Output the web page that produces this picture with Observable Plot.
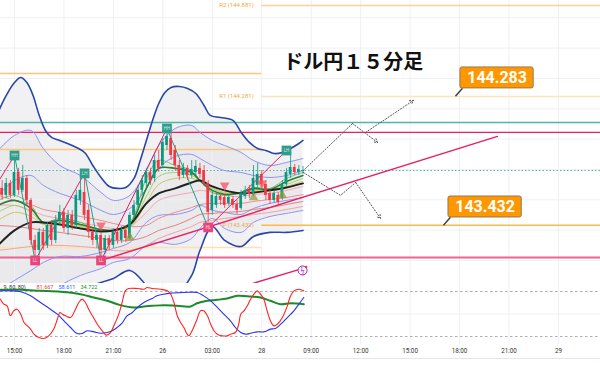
<!DOCTYPE html>
<html><head><meta charset="utf-8">
<script src="https://cdn.jsdelivr.net/npm/d3@7"></script>
<script src="https://cdn.jsdelivr.net/npm/@observablehq/plot@0.6"></script>
<style>
body{margin:0;background:#fff;}
#wrap{position:relative;width:600px;height:369px;overflow:hidden;background:#fff;}
#wrap svg{display:block;overflow:hidden;}
#sep{position:absolute;left:0;top:358px;width:600px;height:1px;background:#e3e6ee;}
</style></head><body><div id="wrap"></div>
<script>
// ---------- candles (15-min bars, index = bar number) ----------
const barOpen  = [143.675,143.629,143.708,143.629,143.780,143.662,143.741,143.596,143.332,143.266,
                  143.385,143.299,143.431,143.332,143.464,143.517,143.411,143.497,143.431,143.596,
                  143.648,143.530,143.385,143.332,143.365,143.266,143.345,143.299,143.385,143.332,
                  143.398,143.345,143.497,143.563,143.662,143.708,143.780,143.741,143.859,143.826,
                  143.958,144.004,143.925,143.826,143.760,143.807,143.760,143.780,143.807,143.793,
                  143.708,143.530,143.563,143.622,143.615,143.576,143.602,143.569,143.543,143.622,
                  143.662,143.642,143.695,143.767,143.701,143.642,143.596,143.629,143.609,143.701,
                  143.767,143.813,143.780,143.787];
const barHigh  = [143.727,143.741,143.727,143.859,143.807,143.826,143.760,143.609,143.365,143.411,
                  143.411,143.451,143.464,143.497,143.563,143.543,143.530,143.530,143.662,143.741,
                  143.760,143.563,143.411,143.398,143.385,143.365,143.365,143.411,143.411,143.424,
                  143.424,143.517,143.596,143.695,143.760,143.807,143.807,143.892,143.925,144.004,
                  144.070,144.057,143.958,143.859,143.840,143.826,143.859,143.859,143.840,143.826,
                  143.727,143.662,143.648,143.642,143.635,143.635,143.622,143.596,143.662,143.688,
                  143.695,143.826,143.840,143.793,143.727,143.662,143.662,143.648,143.727,143.807,
                  143.912,143.833,143.826,143.820];
const barLow   = [143.596,143.609,143.609,143.615,143.629,143.648,143.563,143.299,143.213,143.233,
                  143.266,143.279,143.299,143.312,143.431,143.385,143.365,143.398,143.411,143.563,
                  143.464,143.345,143.299,143.279,143.226,143.240,143.266,143.279,143.306,143.312,
                  143.319,143.332,143.464,143.543,143.629,143.675,143.695,143.714,143.780,143.807,
                  143.925,143.859,143.793,143.727,143.741,143.727,143.741,143.760,143.741,143.688,
                  143.451,143.497,143.543,143.563,143.543,143.556,143.543,143.503,143.530,143.602,
                  143.609,143.622,143.675,143.681,143.596,143.569,143.576,143.556,143.596,143.688,
                  143.741,143.760,143.760,143.767];
const barClose = [143.629,143.708,143.629,143.780,143.662,143.741,143.596,143.332,143.266,143.385,
                  143.299,143.431,143.332,143.464,143.517,143.411,143.497,143.431,143.629,143.662,
                  143.497,143.385,143.332,143.365,143.266,143.345,143.299,143.385,143.332,143.398,
                  143.345,143.497,143.563,143.662,143.727,143.780,143.727,143.859,143.807,143.978,
                  144.018,143.892,143.826,143.754,143.807,143.760,143.800,143.820,143.767,143.708,
                  143.517,143.629,143.622,143.596,143.563,143.615,143.563,143.530,143.642,143.662,
                  143.635,143.741,143.767,143.701,143.629,143.596,143.642,143.582,143.701,143.780,
                  143.813,143.780,143.800,143.793];

// ---------- Bollinger bands & moving averages ----------
const upperOuterIdx = [-1,1,3,4.5,6,7.5,9,10.5,12,14,17,20,22,24,26,28,30,32,33.5,35,36.5,38,39.5,41,43,45,47,49,50.5,53,56,58,60,62,64,66,68,70,72,73];
const upperOuter = [144.176,144.288,144.373,144.406,144.373,144.288,144.156,144.057,144.011,143.991,143.958,143.912,143.826,143.747,143.688,143.675,143.681,143.741,143.859,143.991,144.123,144.235,144.308,144.341,144.347,144.334,144.301,144.222,144.156,144.143,144.123,144.044,143.978,143.938,143.925,143.905,143.912,143.938,143.971,143.991];
const bandIdx   = [-1,3,7,10,14,19,24,27,31,35,38,42,46,48,51,54,58,61,65,69,73];
const lowerOuter = [142.541,142.607,142.640,142.805,142.903,143.002,143.055,143.081,143.134,143.035,142.936,142.969,143.101,143.266,143.424,143.332,143.292,143.358,143.385,143.385,143.398];
const upperIn2  = [143.925,144.024,144.057,143.938,143.826,143.760,143.648,143.596,143.629,143.793,143.958,144.070,144.090,144.044,143.991,143.958,143.912,143.859,143.826,143.846,143.872];
const upperIn1  = [143.629,143.727,143.760,143.695,143.642,143.596,143.530,143.503,143.543,143.675,143.807,143.886,143.899,143.872,143.826,143.793,143.780,143.760,143.747,143.760,143.793];
const midLine   = [143.299,143.398,143.451,143.451,143.437,143.411,143.391,143.398,143.437,143.576,143.642,143.675,143.714,143.727,143.688,143.662,143.642,143.648,143.662,143.681,143.708];
const lowerIn1  = [143.002,143.068,143.134,143.187,143.226,143.226,143.253,143.279,143.319,143.451,143.497,143.503,143.530,143.563,143.530,143.517,143.503,143.543,143.576,143.596,143.615];
const lowerIn2  = [142.706,142.772,142.838,142.963,143.035,143.101,143.147,143.187,143.213,143.299,143.319,143.306,143.345,143.411,143.477,143.411,143.385,143.451,143.490,143.510,143.530];
const ribG1 = [143.596,143.629,143.563,143.451,143.477,143.451,143.398,143.398,143.451,143.741,143.859,143.826,143.793,143.727,143.648,143.629,143.648,143.681,143.675,143.741,143.780];
const ribG2 = [143.563,143.596,143.543,143.451,143.464,143.437,143.404,143.398,143.437,143.675,143.807,143.807,143.780,143.727,143.662,143.635,143.648,143.675,143.668,143.721,143.760];
const ribY1 = [143.517,143.563,143.517,143.444,143.451,143.431,143.404,143.398,143.424,143.622,143.754,143.780,143.760,143.727,143.675,143.642,143.642,143.668,143.668,143.701,143.741];
const ribY2 = [143.464,143.517,143.490,143.437,143.437,143.424,143.398,143.398,143.418,143.582,143.701,143.741,143.741,143.721,143.681,143.648,143.642,143.662,143.662,143.688,143.721];
const ribR1 = [143.563,143.563,143.530,143.497,143.477,143.451,143.424,143.411,143.424,143.517,143.596,143.629,143.648,143.662,143.648,143.629,143.622,143.635,143.642,143.662,143.688];
const ribR2 = [143.629,143.596,143.569,143.536,143.517,143.490,143.464,143.444,143.424,143.431,143.477,143.517,143.549,143.569,143.576,143.576,143.576,143.589,143.602,143.615,143.635];
const ribR3 = [143.431,143.424,143.411,143.398,143.385,143.365,143.345,143.332,143.332,143.358,143.398,143.431,143.477,143.503,143.510,143.517,143.523,143.536,143.549,143.569,143.589];
const ribR4 = [143.266,143.279,143.292,143.299,143.299,143.292,143.279,143.266,143.266,143.299,143.345,143.385,143.424,143.451,143.464,143.477,143.490,143.503,143.517,143.536,143.556];

// ---------- zigzag pivots ----------
const zzIdx   = [-1.5,3,8,20,24,40,50,69];
const zzPrice = [143.695,143.892,143.200,143.774,143.200,144.070,143.418,143.925];
const zzLabel = ["","HH","LL","LH","LL","HH","HL","LH"];

// ---------- levels ----------
const sessionStart = 63;          // start of the "28" session
const pivotNames  = ["R2","R1","P"];
const pivotValues = [144.881,144.281,143.432];
const prevPivots  = [144.433,143.932,143.286];
const tealLevel = 144.110, pinkLevel = 144.044, pinkLow = 143.220, lastPrice = 143.793;
const trendIdx = [24,120.2], trendPrice = [143.200,144.018];
const trend2Idx = [57,72], trend2Price = [143.017,143.140];
const sellIdx = [24,54,63], sellPrice = [143.431,143.695,143.708];
const buyIdx  = [31,61,68], buyPrice  = [143.352,143.615,143.629];

// scenario arrows
const upPathIdx = [73.1,85.0], upPathPrice = [143.793,144.103];
const upArrows  = [{x1:85.0,y1:144.103,x2:91.1,y2:143.978},{x1:88.2,y1:144.044,x2:99.8,y2:144.255}];
const dnPathIdx = [73.1,82.1,85.8], dnPathPrice = [143.780,143.629,143.714];
const dnArrows  = [{x1:85.8,y1:143.714,x2:91.8,y2:143.477}];

// callouts
const calloutIdx = [110.0,107.1], calloutValue = [144.283,143.432];
const titleText = "ドル円１５分足", titleIdx = 85.2, titlePrice = 144.502;

// ---------- oscillator ----------
const oscRedIdx = [-0.4,0.4,1.2,2.0,2.8,3.6,4.5,5.3,6.1,6.9,7.7,8.9,10.1,11.3,12.5,13.4,14.0,14.6,15.4,16.6,17.8,18.6,19.4,20.2,21.0,21.9,23.1,24.3,25.3,26.3,27.1,28.3,29.1,29.9,30.7,32.8,34.4,35.2,36.4,38.4,40.1,40.9,41.7,42.5,43.3,44.1,44.9,45.3,46.1,47.3,48.1,48.9,49.8,50.6,51.4,52.2,53.4,54.6,55.4,56.6,57.4,57.9,58.7,59.5,60.3,61.1,61.9,62.7,63.5,64.3,65.1,65.9,66.8,68.0,69.2,70.0,70.8,72.0,73.2];
const oscRed = [69.8,63.1,60.9,47.6,54.2,56.4,49.8,38.7,34.2,29.8,23.1,18.7,17.3,20.9,29.8,43.1,52.0,49.8,47.6,45.3,56.4,65.3,69.8,65.3,56.4,47.6,36.4,27.6,21.8,25.3,34.2,49.8,65.3,80.9,84.0,84.0,83.1,85.3,84.0,83.1,80.9,76.4,65.3,47.6,38.7,32.0,23.1,20.9,27.6,43.1,54.2,54.2,47.6,36.4,27.6,23.1,20.9,20.9,23.1,25.3,36.4,49.8,54.2,60.9,69.8,76.4,80.9,76.4,69.8,54.2,40.9,34.2,36.4,45.3,60.9,74.2,80.9,83.1,80.9];
const oscBlueIdx = [-0.4,2.0,4.5,6.9,9.3,11.7,13.4,15.0,16.6,18.2,19.4,20.6,22.3,23.9,25.5,26.7,27.9,29.1,30.3,31.6,32.8,34.4,36.4,37.6,39.2,40.9,44.1,47.3,48.9,50.6,52.2,53.8,55.4,56.6,57.9,59.1,60.3,61.9,63.5,65.1,66.3,67.6,69.2,70.8,72.0,73.2];
const oscBlue = [80.9,80.9,79.6,74.2,65.3,56.4,49.8,40.9,32.0,24.0,24.0,27.6,26.2,24.4,25.3,27.6,32.0,37.8,47.6,52.0,58.7,65.3,70.7,74.2,76.4,77.8,78.7,78.7,74.2,67.6,58.7,49.8,40.9,32.0,25.3,23.1,24.4,26.2,26.2,29.8,30.7,36.4,45.3,54.2,63.1,72.0];
const oscGreenIdx = [-0.4,4.5,9.3,14.2,19.0,22.3,25.5,28.7,32.0,34.4,36.4,39.2,42.5,45.7,47.3,49.8,52.2,54.6,57.1,60.3,62.7,65.1,67.6,70.0,73.2];
const oscGreen = [82.2,82.2,80.9,79.6,76.4,72.0,67.6,61.8,58.7,60.0,60.9,61.8,60.9,60.0,64.4,67.6,68.9,70.7,74.2,73.3,72.0,67.6,63.1,64.4,63.1];
const oscLevels = [80,20];
const oscLegend = [{t:"9, 80, 80)",c:"#333"},{t:"81.667",c:"#f23645"},{t:"58.611",c:"#2962ff"},{t:"34.722",c:"#1b8a2a"}];

// ---------- axis ----------
const tickIdx = [3,15,27,39,51,63,75,87,99,111,123,135];
const tickLabels = ["15:00","18:00","21:00","26","03:00","28","09:00","12:00","15:00","18:00","21:00","29"];
const gridPrices = [143.2,143.4,143.6,143.8,144.0,144.2,144.4,144.6,144.8];

// =====================================================
const ser = (idx, vals) => idx.map((i,k)=>({i, v:vals[k]}));
const candles = barOpen.map((o,i)=>({i, o, h:barHigh[i], l:barLow[i], c:barClose[i]}));
const ups = candles.filter(d=>d.c>=d.o), downs = candles.filter(d=>d.c<d.o);
const GREEN="#089981", RED="#f23645";
const xDomain=[-0.4,145.2];
const band = (k)=>bandIdx.map((i,j)=>({i, v:k[j]}));
const zz = zzIdx.map((i,k)=>({i,v:zzPrice[k],lab:zzLabel[k]}));
const zzSegs = zz.slice(1).map((d,k)=>({x1:zz[k].i,y1:zz[k].v,x2:d.i,y2:d.v,up:d.v>zz[k].v}));
const highs = zz.filter((d,k)=>k>0 && d.lab.endsWith("H"));
const lows  = zz.filter((d,k)=>k>0 && d.lab.endsWith("L"));
const callouts = calloutIdx.map((i,k)=>({i, v:calloutValue[k], t:calloutValue[k].toFixed(3)}));
const pivots = pivotNames.map((n,k)=>({n, v:pivotValues[k], t:`${n} (${pivotValues[k].toFixed(3)})`}));
const lineOpt = (stroke, w, extra={}) => ({x:"i", y:"v", stroke, strokeWidth:w, curve:"catmull-rom", ...extra});

const main = Plot.plot({
  width:600, height:283, margin:0,
  x:{domain:xDomain, axis:null},
  y:{domain:[143.048,144.914], axis:null},
  style:{background:"transparent", fontFamily:"Roboto, 'Noto Sans', sans-serif"},
  marks:[
    // band fills
    Plot.areaY(ser(upperOuterIdx, upperOuter), {x:"i", y1:"v", y2:142.0, fill:"#f1f1f3", curve:"catmull-rom"}),
    Plot.areaY(band(lowerOuter), {x:"i", y1:"v", y2:142.0, fill:"#ffffff", curve:"catmull-rom"}),
    Plot.areaY(bandIdx.map((i,k)=>({i, a:upperIn2[k], b:lowerIn2[k]})), {x:"i", y1:"a", y2:"b", fill:"#e4e4e8", fillOpacity:0.55, curve:"catmull-rom"}),
    // grid
    Plot.ruleY(gridPrices, {stroke:"#eef0f4", strokeWidth:1}),
    Plot.ruleX(tickIdx, {stroke:"#eef0f4", strokeWidth:1}),
    // levels
    Plot.ruleY(prevPivots, {x1:xDomain[0], x2:sessionStart, stroke:(d,k)=>k===2?"#ffe0b2":"#ffc47a", strokeWidth:1.5}),
    Plot.ruleY(pivots, {y:"v", x1:sessionStart, x2:xDomain[1], stroke:d=>d.n==="P"?"#ffb74d":(d.n==="R1"?"#ffe3bf":"#ffcf94"), strokeWidth:1.5}),
    Plot.ruleY([tealLevel], {stroke:"#4fb5a5", strokeWidth:1.6}),
    Plot.ruleY([pinkLevel], {stroke:"#e91e63", strokeWidth:1.3}),
    Plot.ruleY([pinkLow], {stroke:"#f06292", strokeWidth:2}),
    Plot.ruleY([lastPrice], {stroke:"#26a69a", strokeWidth:0.8, strokeDasharray:"1.5,2"}),
    // bollinger lines
    Plot.line(band(upperIn2), lineOpt("#8d94f2",1)),
    Plot.line(band(upperIn1), lineOpt("#8d94f2",1)),
    Plot.line(band(lowerIn1), lineOpt("#8d94f2",1)),
    Plot.line(band(lowerIn2), lineOpt("#8d94f2",1)),
    // ribbon
    Plot.line(band(ribR4), lineOpt("#ef9a9a",0.9)),
    Plot.line(band(ribR3), lineOpt("#e57373",0.9)),
    Plot.line(band(ribR2), lineOpt("#ef8080",0.9)),
    Plot.line(band(ribR1), lineOpt("#f4a0a0",0.9)),
    Plot.line(band(ribY2), lineOpt("#c9c24a",0.9)),
    Plot.line(band(ribY1), lineOpt("#9ccc65",0.9)),
    Plot.line(band(ribG1), lineOpt("#66bb6a",0.9)),
    Plot.line(band(ribG2), lineOpt("#2e7d32",1.6)),
    Plot.line(band(midLine), lineOpt("#222",2)),
    Plot.line(ser(upperOuterIdx, upperOuter), lineOpt("#2a46a8",1.6)),
    Plot.line(band(lowerOuter), lineOpt("#2a46a8",1.6)),
    // trend lines
    Plot.line(ser(trendIdx,trendPrice), {x:"i", y:"v", stroke:"#e91e63", strokeWidth:1.4}),
    Plot.line(ser(trend2Idx,trend2Price), {x:"i", y:"v", stroke:"#e91e63", strokeWidth:1.4}),
    // zigzag
    Plot.link(zzSegs.filter(d=>d.up), {x1:"x1",y1:"y1",x2:"x2",y2:"y2", stroke:"#e91e63", strokeWidth:1}),
    Plot.link(zzSegs.filter(d=>!d.up), {x1:"x1",y1:"y1",x2:"x2",y2:"y2", stroke:"#1f9e89", strokeWidth:1}),
    // candles
    Plot.ruleX(ups, {x:"i", y1:"l", y2:"h", stroke:GREEN, strokeWidth:0.8}),
    Plot.ruleX(downs, {x:"i", y1:"l", y2:"h", stroke:RED, strokeWidth:0.8}),
    Plot.rect(ups, {x1:d=>d.i-0.33, x2:d=>d.i+0.33, y1:"o", y2:"c", fill:GREEN}),
    Plot.rect(downs, {x1:d=>d.i-0.33, x2:d=>d.i+0.33, y1:"o", y2:"c", fill:RED}),
    // signals
    Plot.dot(ser(sellIdx,sellPrice), {x:"i", y:"v", symbol:"triangle", r:3.6, rotate:180, fill:"#f7525f", fillOpacity:0.75}),
    Plot.dot(ser(buyIdx,buyPrice), {x:"i", y:"v", symbol:"triangle", r:3.6, fill:"#8c9a3a", fillOpacity:0.7}),
    // pivot markers
    Plot.dot(highs, {x:"i", y:"v", symbol:"square", r:5.5, fill:"#2e9d8a"}),
    Plot.dot(lows, {x:"i", y:"v", symbol:"square", r:5.5, fill:"#e8457a"}),
    Plot.text(highs.concat(lows), {x:"i", y:"v", text:"lab", fill:"#ffffff", fillOpacity:0.8, fontSize:4.5}),
    // scenario arrows
    Plot.line(ser(upPathIdx,upPathPrice), {x:"i", y:"v", stroke:"#555", strokeWidth:1, strokeDasharray:"1.2,1.8"}),
    Plot.line(ser(dnPathIdx,dnPathPrice), {x:"i", y:"v", stroke:"#555", strokeWidth:1, strokeDasharray:"1.2,1.8"}),
    Plot.arrow(upArrows.concat(dnArrows), {x1:"x1",y1:"y1",x2:"x2",y2:"y2", stroke:"#555", strokeWidth:1, strokeDasharray:"1.2,1.8", headLength:6}),
    // pivot labels
    Plot.text(pivots, {x:sessionStart, y:"v", text:"t", textAnchor:"end", dx:-8, fill:"#f5a742", fontSize:6}),
    // callouts
    Plot.link(callouts, {x1:"i", y1:"v", x2:d=>d.i+1.7, y2:d=>d.v+0.053, stroke:"#444", strokeWidth:1.5}),
    Plot.rect(callouts, {x1:d=>d.i+1.2, x2:d=>d.i+19, y1:d=>d.v+0.051, y2:d=>d.v+0.19, fill:"#ff9800", stroke:"#7a6a55", strokeWidth:0.8, rx:2}),
    Plot.text(callouts, {x:d=>d.i+10.1, y:d=>d.v+0.121, text:"t", fill:"#fff", fontSize:16, fontWeight:"bold", fontFamily:"Roboto, 'Noto Sans', sans-serif"}),
    // title
    Plot.text([titleText], {x:titleIdx, y:titlePrice, text:d=>d, fontSize:20, fontWeight:"bold", fill:"#111", fontFamily:"'Noto Sans CJK JP', sans-serif"}),
    // alert icon
    Plot.dot([{i:72.9, v:143.134}], {x:"i", y:"v", r:4.5, stroke:"#9c27b0", fill:"#fff", strokeWidth:1}),
    Plot.text([{i:72.9, v:143.134}], {x:"i", y:"v", text:()=>"ϟ", fill:"#9c27b0", fontSize:7}),
    Plot.dot([{i:72.9, v:143.134}], {x:"i", y:"v", r:1.3, dx:3.5, dy:-3.5, fill:"#f23645"})
  ]
});

const labelMap = new Map(tickIdx.map((t,k)=>[t,tickLabels[k]]));
const osc = Plot.plot({
  width:600, height:86, marginTop:0, marginBottom:25, marginLeft:0, marginRight:0,
  x:{domain:xDomain, ticks:tickIdx, tickFormat:d=>labelMap.get(d), tickSize:0, tickPadding:4, label:null},
  y:{domain:[9.33,90.67], axis:null},
  style:{background:"transparent", fontFamily:"Roboto, 'Noto Sans', sans-serif", fontSize:"6.3px", color:"#333"},
  marks:[
    Plot.ruleX(tickIdx, {stroke:"#eef0f4"}),
    Plot.ruleY([50], {stroke:"#eef0f4"}),
    Plot.ruleY(oscLevels, {stroke:"#9a9a9a", strokeWidth:0.8, strokeDasharray:"2.5,2.5"}),
    Plot.line(ser(oscGreenIdx,oscGreen), {x:"i", y:"v", stroke:"#1b8a2a", strokeWidth:2, curve:"catmull-rom"}),
    Plot.line(ser(oscBlueIdx,oscBlue), {x:"i", y:"v", stroke:"#2b35f0", strokeWidth:1.1, curve:"catmull-rom"}),
    Plot.line(ser(oscRedIdx,oscRed), {x:"i", y:"v", stroke:"#ff2222", strokeWidth:1.1, curve:"catmull-rom"}),
    ...oscLegend.map((d,k)=>Plot.text([d.t], {frameAnchor:"top-left", dx:[3,36,58,80][k], dy:2, text:t=>t, fill:d.c, fontSize:5.5}))
  ]
});

const wrap = document.getElementById("wrap");
wrap.appendChild(main);
wrap.appendChild(osc);
const sep = document.createElement("div"); sep.id="sep"; wrap.appendChild(sep);
</script></body></html>
